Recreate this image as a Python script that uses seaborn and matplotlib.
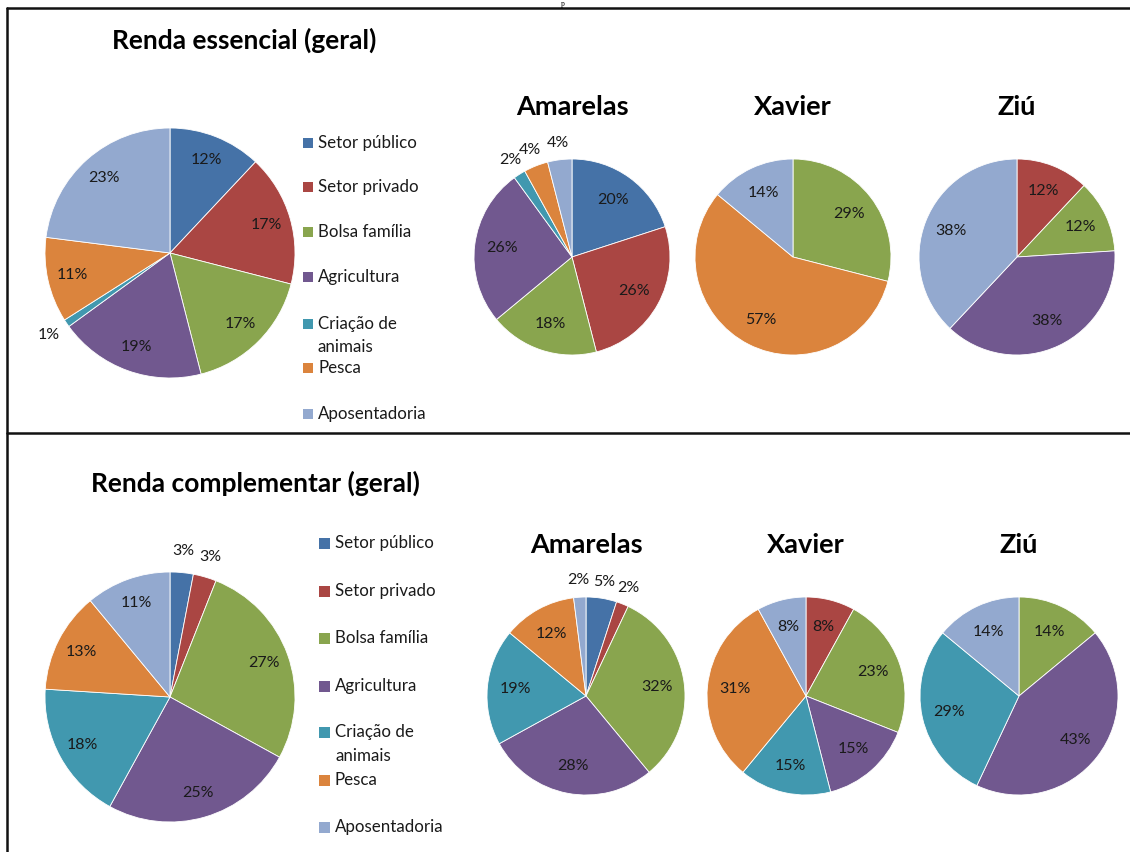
import matplotlib
matplotlib.use("Agg")
import matplotlib.pyplot as plt
import seaborn as sns
import numpy as np
from matplotlib.patches import Rectangle
from matplotlib.lines import Line2D

# ---------------- data ----------------
categories = ["Setor público", "Setor privado", "Bolsa família", "Agricultura",
              "Criação de animais", "Pesca", "Aposentadoria"]
legend_lines = [["Setor público"], ["Setor privado"], ["Bolsa família"], ["Agricultura"],
                ["Criação de", "animais"], ["Pesca"], ["Aposentadoria"]]
colors = ["#4572A7", "#AA4643", "#89A54E", "#71588F", "#4198AF", "#DB843D", "#93A9CF"]

essencial_geral = [12, 17, 17, 19, 1, 11, 23]
essencial_amarelas = [20, 26, 18, 26, 2, 4, 4]
essencial_xavier = [0, 0, 29, 0, 0, 57, 14]
essencial_ziu = [0, 12, 12, 38, 0, 0, 38]

complementar_geral = [3, 3, 27, 25, 18, 13, 11]
complementar_amarelas = [5, 2, 32, 28, 19, 12, 2]
complementar_xavier = [0, 8, 23, 15, 15, 31, 8]
complementar_ziu = [0, 0, 14, 43, 29, 0, 14]

title_top = "Renda essencial (geral)"
title_bottom = "Renda complementar (geral)"
place_titles = ["Amarelas", "Xavier", "Ziú"]

# ---------------- style ----------------
sns.set_theme(style="white")
plt.rcParams["font.family"] = ["Lato", "DejaVu Sans"]
palette = sns.color_palette(colors)

W, H = 1130, 852
fig = plt.figure(figsize=(W / 100, H / 100), dpi=100)
fig.patch.set_facecolor("white")


def fx(x):
    return x / W


def fy(y):
    return 1 - y / H


def draw_pie(values, cx, cy, r, label_r):
    ax = fig.add_axes([fx(cx - r), fy(cy + r), 2 * r / W, 2 * r / H])
    idx = [i for i, v in enumerate(values) if v > 0]
    vals = [values[i] for i in idx]
    cols = [palette[i] for i in idx]
    wedges, _ = ax.pie(vals, colors=cols, startangle=90, counterclock=False,
                       radius=1, wedgeprops=dict(edgecolor="white", linewidth=0.6))
    for w, v in zip(wedges, vals):
        mid = np.deg2rad((w.theta1 + w.theta2) / 2)
        d = 1.17 if v <= 5 else label_r
        ax.text(d * np.cos(mid), d * np.sin(mid), f"{v}%", ha="center", va="center",
                fontsize=11.5, color="#1a1a1a", clip_on=False)
    ax.set_xlim(-1, 1)
    ax.set_ylim(-1, 1)
    ax.set_aspect("equal")
    ax.axis("off")
    return ax


def draw_legend(x_sq, x_txt, y_rows, sq, line_h):
    for lines, c, y in zip(legend_lines, palette, y_rows):
        fig.add_artist(Rectangle((fx(x_sq), fy(y + sq / 2)), sq / W, sq / H,
                                 transform=fig.transFigure, facecolor=c,
                                 edgecolor="none"))
        for k, t in enumerate(lines):
            fig.text(fx(x_txt), fy(y + k * line_h), t, ha="left", va="center",
                     fontsize=12.2, color="#1a1a1a")


# ---------------- top panel ----------------
fig.text(fx(244), fy(40), title_top, ha="center", va="center", fontsize=19,
         fontweight="bold", color="black")
draw_pie(essencial_geral, 170, 253, 125, 0.8)
draw_legend(303, 318, [143, 187, 232, 277, 324, 368, 414], 10, 23)
for name, vals, cx in zip(place_titles,
                          [essencial_amarelas, essencial_xavier, essencial_ziu],
                          [572, 793, 1017]):
    fig.text(fx(cx), fy(107), name, ha="center", va="center", fontsize=19.5,
             fontweight="bold", color="black")
    draw_pie(vals, cx, 257, 98, 0.72)

# ---------------- bottom panel ----------------
fig.text(fx(255), fy(483), title_bottom, ha="center", va="center", fontsize=19,
         fontweight="bold", color="black")
draw_pie(complementar_geral, 170, 697, 125, 0.8)
draw_legend(319, 335, [543, 591, 638, 686, 732, 780, 827], 11, 24)
for name, vals, cx in zip(place_titles,
                          [complementar_amarelas, complementar_xavier, complementar_ziu],
                          [586, 806, 1019]):
    fig.text(fx(cx), fy(545), name, ha="center", va="center", fontsize=19.5,
             fontweight="bold", color="black")
    draw_pie(vals, cx, 696, 99, 0.72)

# ---------------- frame lines ----------------
lw = 1.8
fig.add_artist(Line2D([fx(7), fx(7)], [fy(8), fy(852)], transform=fig.transFigure,
                      color="#111111", linewidth=lw))
fig.add_artist(Line2D([fx(7), fx(1130)], [fy(8), fy(8)], transform=fig.transFigure,
                      color="#111111", linewidth=lw))
fig.add_artist(Line2D([fx(7), fx(1130)], [fy(433), fy(433)], transform=fig.transFigure,
                      color="#111111", linewidth=lw))
fig.text(fx(563), fy(0.5), "p", ha="center", va="top", fontsize=5.5,
         family=["Liberation Serif", "DejaVu Serif"], color="black")

fig.savefig("out.png", dpi=100, facecolor="white")
